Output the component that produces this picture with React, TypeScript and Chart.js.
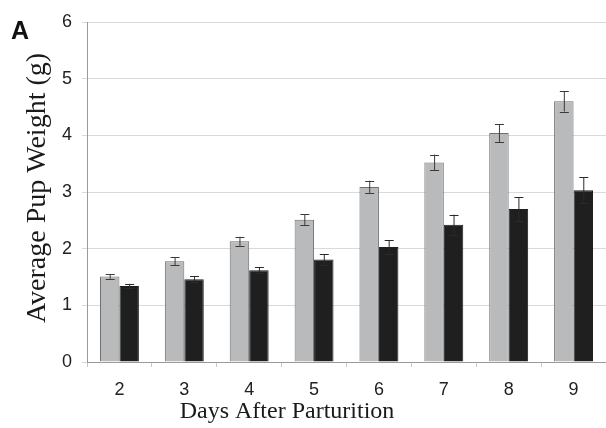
import React, { useEffect, useRef } from "react";
import { Chart, registerables } from "chart.js";

Chart.register(...registerables);

const days = ["2", "3", "4", "5", "6", "7", "8", "9"];
const grayValues = [1.51, 1.78, 2.13, 2.51, 3.09, 3.52, 4.04, 4.6];
const grayErrors = [0.04, 0.07, 0.08, 0.1, 0.11, 0.14, 0.16, 0.18];
const blackValues = [1.34, 1.46, 1.62, 1.81, 2.03, 2.42, 2.7, 3.03];
const blackErrors = [0.04, 0.05, 0.05, 0.09, 0.12, 0.18, 0.21, 0.23];
const yTicks = [0, 1, 2, 3, 4, 5, 6];

const xTitle = "Days After Parturition";
const yTitle = "Average Pup Weight (g)";
const panelLabel = "A";

const errorBarPlugin = {
  id: "errorBars",
  afterDatasetsDraw(chart: any) {
    const ctx = chart.ctx;
    const y = chart.scales.y;
    const errs = [grayErrors, blackErrors];
    const colors = ["#3a3a3a", "#2a2a2a"];
    chart.data.datasets.forEach((ds: any, di: number) => {
      const meta = chart.getDatasetMeta(di);
      meta.data.forEach((bar: any, i: number) => {
        const v = ds.data[i];
        const e = errs[di][i];
        const x = bar.x;
        const yt = y.getPixelForValue(v + e);
        const yb = y.getPixelForValue(v - e);
        ctx.save();
        ctx.strokeStyle = colors[di];
        ctx.lineWidth = 1;
        ctx.beginPath();
        ctx.moveTo(x + 0.5, yt);
        ctx.lineTo(x + 0.5, yb);
        ctx.moveTo(x - 4, Math.round(yt) + 0.5);
        ctx.lineTo(x + 5, Math.round(yt) + 0.5);
        ctx.moveTo(x - 4, Math.round(yb) + 0.5);
        ctx.lineTo(x + 5, Math.round(yb) + 0.5);
        ctx.stroke();
        ctx.restore();
      });
    });
  },
};

const titlesPlugin = {
  id: "titles",
  afterDraw(chart: any) {
    const ctx = chart.ctx;
    const a = chart.chartArea;
    ctx.save();
    ctx.fillStyle = "#1a1a1a";
    ctx.font = "24px 'Liberation Serif', serif";
    ctx.textAlign = "center";
    ctx.textBaseline = "middle";
    ctx.fillText(xTitle, a.left + 200, 412);
    ctx.font = "28px 'Liberation Serif', serif";
    ctx.translate(38, 188);
    ctx.rotate(-Math.PI / 2);
    ctx.fillText(yTitle, 0, 0);
    ctx.restore();
    ctx.save();
    ctx.fillStyle = "#111";
    ctx.font = "bold 25px 'Liberation Sans', Arial, sans-serif";
    ctx.textAlign = "left";
    ctx.textBaseline = "middle";
    ctx.fillText(panelLabel, 11, 32);
    ctx.restore();
  },
};

export default function App() {
  const ref = useRef<HTMLCanvasElement>(null);
  useEffect(() => {
    if (!ref.current) return;
    const chart = new Chart(ref.current, {
      type: "bar",
      data: {
        labels: days,
        datasets: [
          {
            data: grayValues,
            backgroundColor: "#b9babc",
            borderColor: "#6f6f6f",
            borderWidth: 1,
            categoryPercentage: 0.6,
            barPercentage: 1,
          },
          {
            data: blackValues,
            backgroundColor: "#1f1f1f",
            borderColor: "#1f1f1f",
            borderWidth: 1,
            categoryPercentage: 0.6,
            barPercentage: 1,
          },
        ],
      },
      options: {
        animation: false,
        responsive: false,
        maintainAspectRatio: false,
        layout: { padding: { top: 22, right: 0, left: 0, bottom: 0 } },
        plugins: { legend: { display: false }, tooltip: { enabled: false } },
        scales: {
          x: {
            afterFit: (s: any) => {
              s.height = 66;
            },
            grid: {
              display: true,
              drawOnChartArea: false,
              drawTicks: true,
              tickLength: 5,
              color: "#c8c8c8",
            },
            border: { display: true, color: "#9a9a9a" },
            ticks: {
              padding: 12,
              color: "#222",
              font: { family: "'Liberation Sans', Arial, sans-serif", size: 18 },
            },
          },
          y: {
            min: 0,
            max: 6,
            afterFit: (s: any) => {
              s.width = 87;
            },
            afterBuildTicks: (s: any) => {
              s.ticks = yTicks.map((v) => ({ value: v }));
            },
            grid: {
              color: "#dadada",
              tickLength: 5,
            },
            border: { display: true, color: "#9a9a9a" },
            ticks: {
              padding: 10,
              color: "#222",
              font: { family: "'Liberation Sans', Arial, sans-serif", size: 18 },
            },
          },
        },
      },
      plugins: [errorBarPlugin, titlesPlugin],
    });
    return () => chart.destroy();
  }, []);
  return (
    <div style={{ position: "fixed", left: 0, top: 0, width: 606, height: 428, background: "#fff" }}>
      <canvas ref={ref} width={606} height={428} style={{ width: 606, height: 428 }} />
    </div>
  );
}
